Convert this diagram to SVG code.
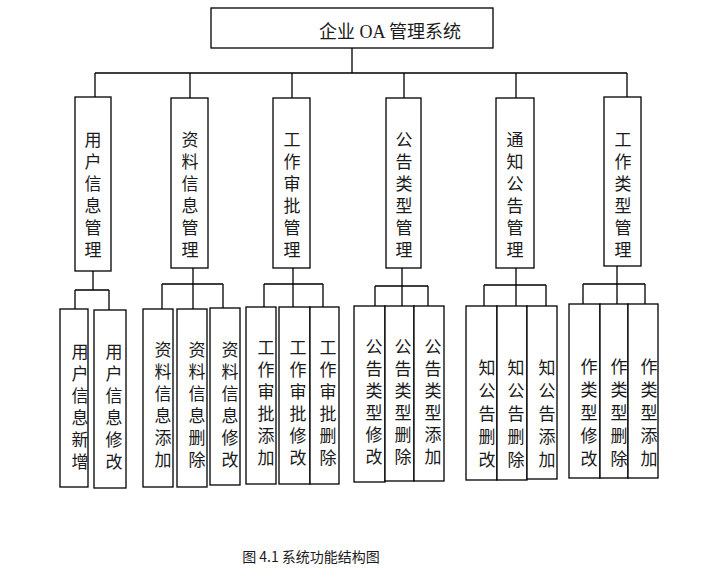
<svg xmlns="http://www.w3.org/2000/svg" width="717" height="579" viewBox="0 0 717 579">
<style>
rect.b{fill:#fff;stroke:#000;stroke-width:1.3}
.c line,.c path{stroke:#000;stroke-width:1.3;fill:none}
text{font-family:"Noto Sans CJK SC","Liberation Serif",serif;font-size:17px;fill:#1a1a1a;text-anchor:middle}
.t{font-family:"Liberation Serif","Noto Sans CJK SC",serif;font-size:18px}
.cap{font-size:14px}
</style>
<rect width="717" height="579" fill="#fff"/>
<g class="c" id="connectors">
<path d="M352 48V73M95 73H627M95 73V97M190 73V98M292 73V98M404 73V98M516 73V98M627 73V97"/>
<path d="M93 271V290M75 290H109M75 290V310M109 290V310"/>
<path d="M193 268V284M162 284H223M162 284V309M193 284V309M223 284V308"/>
<path d="M293 268V284M264 284H323M264 284V307M293 284V307M323 284V307"/>
<path d="M402 268V286M375 286H428M375 286V306M402 286V306M428 286V306"/>
<path d="M516 268V285M484 285H546M484 285V306M516 285V306M546 285V306"/>
<path d="M617 266V284M583 284H645M583 284V304M617 284V304M645 284V304"/>
</g>
<g id="root"><rect class="b" x="211" y="8" width="282" height="40"/><text class="t" x="390" y="38">企业 OA 管理系统</text></g>
<g id="n1"><rect class="b" x="75" y="97" width="36" height="174"/><text x="93" y="146">用<tspan x="93" dy="22">户</tspan><tspan x="93" dy="22">信</tspan><tspan x="93" dy="22">息</tspan><tspan x="93" dy="22">管</tspan><tspan x="93" dy="22">理</tspan></text></g>
<g id="n2"><rect class="b" x="171" y="98" width="37" height="170"/><text x="190" y="146">资<tspan x="190" dy="22">料</tspan><tspan x="190" dy="22">信</tspan><tspan x="190" dy="22">息</tspan><tspan x="190" dy="22">管</tspan><tspan x="190" dy="22">理</tspan></text></g>
<g id="n3"><rect class="b" x="273" y="98" width="37" height="170"/><text x="292" y="146">工<tspan x="292" dy="22">作</tspan><tspan x="292" dy="22">审</tspan><tspan x="292" dy="22">批</tspan><tspan x="292" dy="22">管</tspan><tspan x="292" dy="22">理</tspan></text></g>
<g id="n4"><rect class="b" x="386" y="98" width="35" height="170"/><text x="404" y="146">公<tspan x="404" dy="22">告</tspan><tspan x="404" dy="22">类</tspan><tspan x="404" dy="22">型</tspan><tspan x="404" dy="22">管</tspan><tspan x="404" dy="22">理</tspan></text></g>
<g id="n5"><rect class="b" x="496" y="98" width="38" height="170"/><text x="515" y="146">通<tspan x="515" dy="22">知</tspan><tspan x="515" dy="22">公</tspan><tspan x="515" dy="22">告</tspan><tspan x="515" dy="22">管</tspan><tspan x="515" dy="22">理</tspan></text></g>
<g id="n6"><rect class="b" x="604" y="97" width="37" height="169"/><text x="623" y="146">工<tspan x="623" dy="22">作</tspan><tspan x="623" dy="22">类</tspan><tspan x="623" dy="22">型</tspan><tspan x="623" dy="22">管</tspan><tspan x="623" dy="22">理</tspan></text></g>

<g id="a1"><rect class="b" x="60" y="309" width="28" height="178"/><text x="80" y="358">用<tspan x="80" dy="22">户</tspan><tspan x="80" dy="22">信</tspan><tspan x="80" dy="22">息</tspan><tspan x="80" dy="22">新</tspan><tspan x="80" dy="22">增</tspan></text></g>
<g id="a2"><rect class="b" x="94" y="310" width="32" height="178"/><text x="114" y="358">用<tspan x="114" dy="22">户</tspan><tspan x="114" dy="22">信</tspan><tspan x="114" dy="22">息</tspan><tspan x="114" dy="22">修</tspan><tspan x="114" dy="22">改</tspan></text></g>
<g id="b1"><rect class="b" x="143" y="309" width="30" height="178"/><text x="163" y="356">资<tspan x="163" dy="22">料</tspan><tspan x="163" dy="22">信</tspan><tspan x="163" dy="22">息</tspan><tspan x="163" dy="22">添</tspan><tspan x="163" dy="22">加</tspan></text></g>
<g id="b2"><rect class="b" x="177" y="309" width="30" height="178"/><text x="197" y="356">资<tspan x="197" dy="22">料</tspan><tspan x="197" dy="22">信</tspan><tspan x="197" dy="22">息</tspan><tspan x="197" dy="22">删</tspan><tspan x="197" dy="22">除</tspan></text></g>
<g id="b3"><rect class="b" x="210" y="308" width="30" height="177"/><text x="230" y="356">资<tspan x="230" dy="22">料</tspan><tspan x="230" dy="22">信</tspan><tspan x="230" dy="22">息</tspan><tspan x="230" dy="22">修</tspan><tspan x="230" dy="22">改</tspan></text></g>
<g id="c1"><rect class="b" x="246" y="307" width="30" height="177"/><text x="266" y="354">工<tspan x="266" dy="22">作</tspan><tspan x="266" dy="22">审</tspan><tspan x="266" dy="22">批</tspan><tspan x="266" dy="22">添</tspan><tspan x="266" dy="22">加</tspan></text></g>
<g id="c2"><rect class="b" x="279" y="307" width="31" height="177"/><text x="298" y="354">工<tspan x="298" dy="22">作</tspan><tspan x="298" dy="22">审</tspan><tspan x="298" dy="22">批</tspan><tspan x="298" dy="22">修</tspan><tspan x="298" dy="22">改</tspan></text></g>
<g id="c3"><rect class="b" x="310" y="307" width="29" height="177"/><text x="328" y="354">工<tspan x="328" dy="22">作</tspan><tspan x="328" dy="22">审</tspan><tspan x="328" dy="22">批</tspan><tspan x="328" dy="22">删</tspan><tspan x="328" dy="22">除</tspan></text></g>
<g id="d1"><rect class="b" x="354" y="306" width="31" height="176"/><text x="374" y="353">公<tspan x="374" dy="22">告</tspan><tspan x="374" dy="22">类</tspan><tspan x="374" dy="22">型</tspan><tspan x="374" dy="22">修</tspan><tspan x="374" dy="22">改</tspan></text></g>
<g id="d2"><rect class="b" x="385" y="306" width="29" height="175"/><text x="403" y="353">公<tspan x="403" dy="22">告</tspan><tspan x="403" dy="22">类</tspan><tspan x="403" dy="22">型</tspan><tspan x="403" dy="22">删</tspan><tspan x="403" dy="22">除</tspan></text></g>
<g id="d3"><rect class="b" x="414" y="306" width="30" height="175"/><text x="433" y="353">公<tspan x="433" dy="22">告</tspan><tspan x="433" dy="22">类</tspan><tspan x="433" dy="22">型</tspan><tspan x="433" dy="22">添</tspan><tspan x="433" dy="22">加</tspan></text></g>
<g id="e1"><rect class="b" x="466" y="306" width="31" height="174"/><text x="487" y="374">知<tspan x="487" dy="23">公</tspan><tspan x="487" dy="23">告</tspan><tspan x="487" dy="23">删</tspan><tspan x="487" dy="23">改</tspan></text></g>
<g id="e2"><rect class="b" x="497" y="306" width="30" height="174"/><text x="516" y="374">知<tspan x="516" dy="23">公</tspan><tspan x="516" dy="23">告</tspan><tspan x="516" dy="23">删</tspan><tspan x="516" dy="23">除</tspan></text></g>
<g id="e3"><rect class="b" x="527" y="306" width="30" height="173"/><text x="547" y="374">知<tspan x="547" dy="23">公</tspan><tspan x="547" dy="23">告</tspan><tspan x="547" dy="23">添</tspan><tspan x="547" dy="23">加</tspan></text></g>
<g id="f1"><rect class="b" x="569" y="304" width="31" height="174"/><text x="589" y="373">作<tspan x="589" dy="23">类</tspan><tspan x="589" dy="23">型</tspan><tspan x="589" dy="23">修</tspan><tspan x="589" dy="23">改</tspan></text></g>
<g id="f2"><rect class="b" x="600" y="304" width="28" height="174"/><text x="619" y="373">作<tspan x="619" dy="23">类</tspan><tspan x="619" dy="23">型</tspan><tspan x="619" dy="23">删</tspan><tspan x="619" dy="23">除</tspan></text></g>
<g id="f3"><rect class="b" x="628" y="304" width="30" height="174"/><text x="649" y="373">作<tspan x="649" dy="23">类</tspan><tspan x="649" dy="23">型</tspan><tspan x="649" dy="23">添</tspan><tspan x="649" dy="23">加</tspan></text></g>
<text class="cap" x="311" y="562">图 4.1  系统功能结构图</text>
</svg>
